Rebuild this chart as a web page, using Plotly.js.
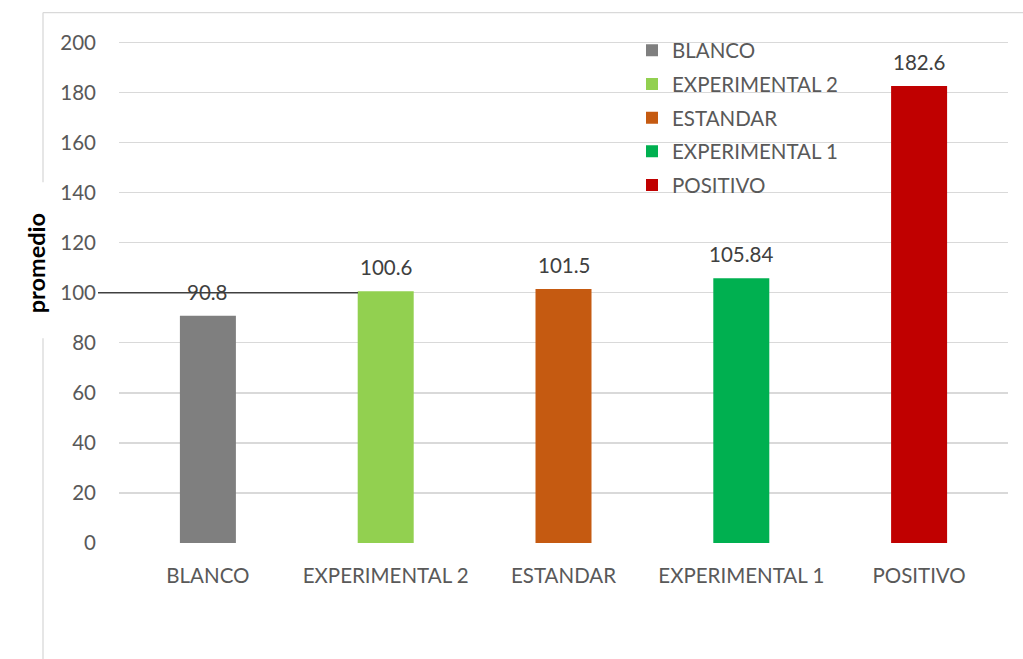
<!DOCTYPE html>
<html>
<head>
<meta charset="utf-8">
<script src="https://cdn.plot.ly/plotly-3.0.1.min.js"></script>
<style>html,body{margin:0;padding:0;background:#fff;}#chart{width:1023px;height:659px;}</style>
</head>
<body>
<div id="chart"></div>
<script>
const categories = ["BLANCO", "EXPERIMENTAL 2", "ESTANDAR", "EXPERIMENTAL 1", "POSITIVO"];
const values = [90.8, 100.6, 101.5, 105.84, 182.6];
const labels = ["90.8", "100.6", "101.5", "105.84", "182.6"];
const colors = ["#7f7f7f", "#92d050", "#c55a11", "#00b050", "#c00000"];
const yTicks = [0, 20, 40, 60, 80, 100, 120, 140, 160, 180, 200];

const FONT = "Lato, 'Open Sans', sans-serif";
const traces = categories.map((c, i) => ({
  type: "bar",
  name: c,
  x: [c],
  y: [values[i]],
  marker: {color: colors[i]},
  width: 0.315,
  legendgroup: "g" + i,
  hoverinfo: "x+y"
}));

const L = 119, R = 1008, T = 39.5, B = 543;
const px = v => (v - L) / (R - L);
const py = v => (B - v) / (B - T);

const valueLabels = categories.map((c, i) => ({
  x: c, y: values[i], xref: "x", yref: "y", text: labels[i],
  showarrow: false, yanchor: "bottom", yshift: 10,
  font: {family: FONT, size: 20.5, color: "#404040"}
}));

const layout = {
  width: 1023, height: 659,
  margin: {l: L, r: 1023 - R, t: T, b: 659 - B, pad: 0},
  paper_bgcolor: "#fff", plot_bgcolor: "#fff",
  font: {family: FONT, size: 20.5, color: "#595959"},
  barmode: "overlay",
  showlegend: true,
  legend: {
    x: px(632), y: py(30), xanchor: "left", yanchor: "top",
    font: {family: FONT, size: 20.5, color: "#595959"},
    tracegroupgap: 4, bgcolor: "rgba(0,0,0,0)"
  },
  xaxis: {
    type: "category", categoryorder: "array", categoryarray: categories,
    range: [-0.5, 4.5], showgrid: false, zeroline: false, showline: false,
    ticks: "", ticklabelstandoff: 18,
    tickfont: {family: FONT, size: 20.5, color: "#595959"}
  },
  yaxis: {
    range: [0, 201], tickvals: yTicks, ticktext: yTicks.map(String),
    showgrid: true, gridcolor: "#d9d9d9", gridwidth: 1.3,
    zeroline: false, showline: false, ticks: "", ticklabelstandoff: 22,
    tickfont: {family: FONT, size: 20.5, color: "#595959"}
  },
  annotations: valueLabels.concat([{
    text: "<b>promedio</b>", xref: "paper", yref: "paper",
    x: px(20), y: py(263), textangle: -90, showarrow: false,
    font: {family: FONT, size: 23.5, color: "#000"}
  }]),
  shapes: [
    {type: "line", xref: "paper", yref: "paper", x0: px(43), x1: 1.02, y0: py(12), y1: py(12), line: {color: "#d9d9d9", width: 1.3}},
    {type: "line", xref: "paper", yref: "paper", x0: px(43), x1: px(43), y0: py(12), y1: py(182), line: {color: "#d9d9d9", width: 1.3}},
    {type: "line", xref: "paper", yref: "paper", x0: px(43), x1: px(43), y0: py(338), y1: py(662), line: {color: "#d9d9d9", width: 1.3}},
    {type: "line", xref: "paper", yref: "y", x0: px(98), x1: px(358), y0: 100, y1: 100, line: {color: "#404040", width: 1.6}}
  ]
};

Plotly.newPlot("chart", traces, layout, {displayModeBar: false, staticPlot: true});
</script>
</body>
</html>
